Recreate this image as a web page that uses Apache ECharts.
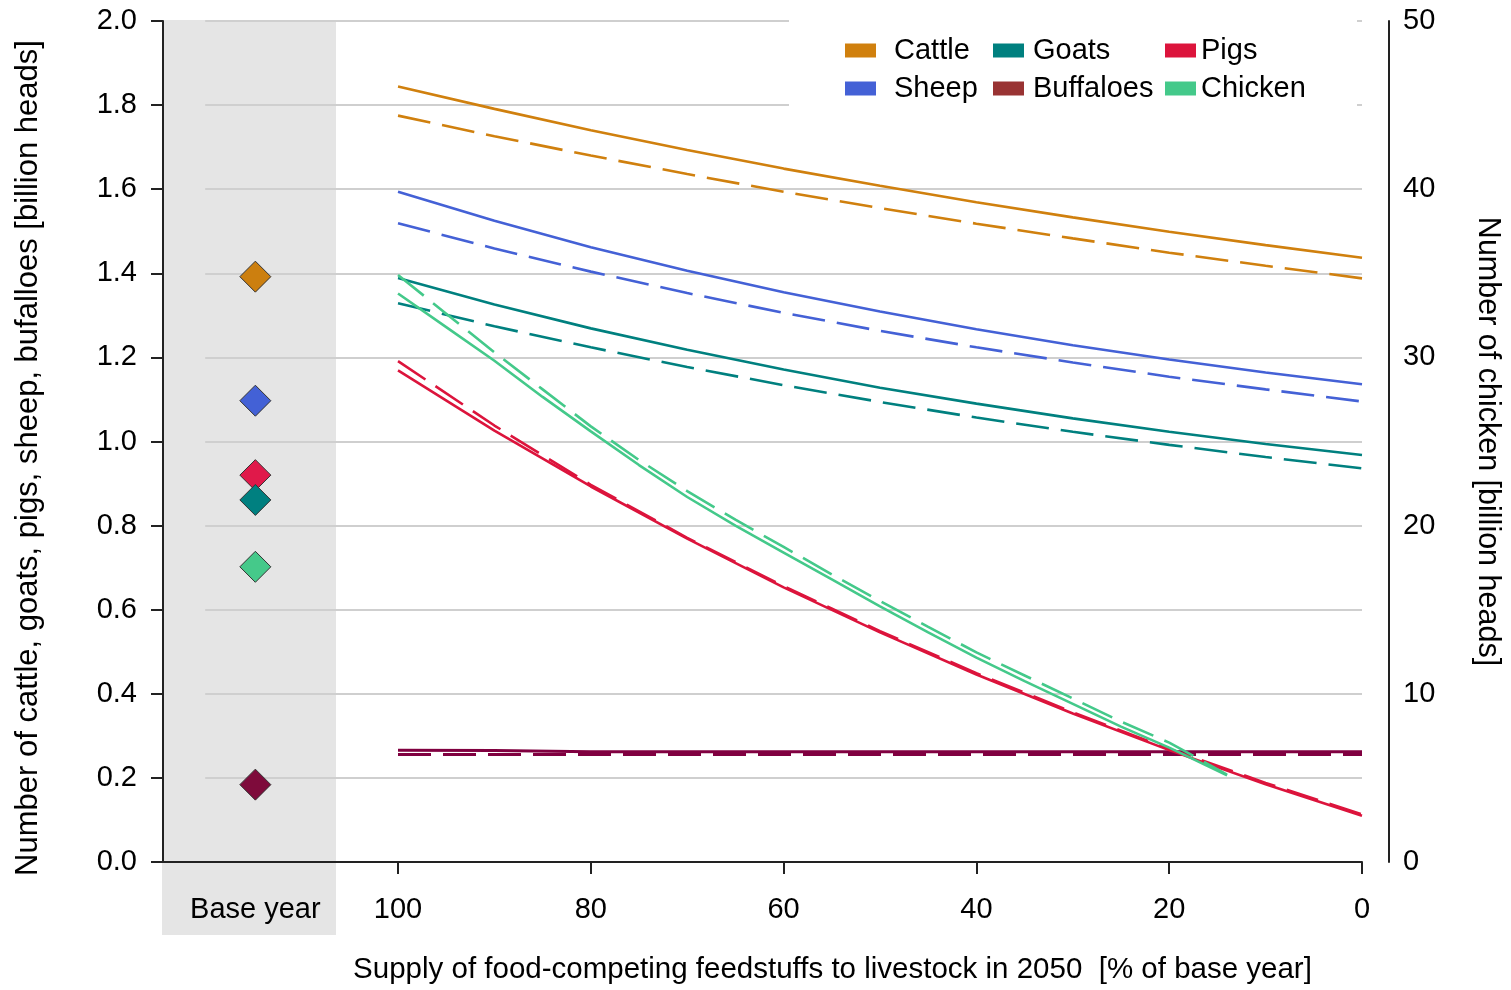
<!DOCTYPE html>
<html>
<head>
<meta charset="utf-8">
<script src="https://cdn.jsdelivr.net/npm/echarts@6/dist/echarts.min.js"></script>
<style>
  html, body { margin: 0; padding: 0; background: #fff; }
  #chart { width: 1511px; height: 990px; }
</style>
</head>
<body>
<div id="chart"></div>
<script>
// Supply of food-competing feedstuffs [% of base year]
const SUPPLY = [100, 90, 80, 70, 60, 50, 40, 30, 20, 10, 0];

// Herd sizes in 2050 [billion heads]; solid = first scenario, *_B = dashed scenario
const CATTLE      = [1.844, 1.791, 1.740, 1.693, 1.649, 1.608, 1.569, 1.533, 1.499, 1.467, 1.437];
const CATTLE_B    = [1.775, 1.726, 1.680, 1.636, 1.594, 1.555, 1.518, 1.483, 1.449, 1.418, 1.388];
const SHEEP       = [1.594, 1.525, 1.462, 1.406, 1.355, 1.309, 1.267, 1.229, 1.195, 1.164, 1.136];
const SHEEP_B     = [1.519, 1.459, 1.404, 1.353, 1.306, 1.263, 1.224, 1.188, 1.154, 1.124, 1.095];
const GOATS       = [1.389, 1.326, 1.269, 1.218, 1.171, 1.128, 1.090, 1.055, 1.023, 0.994, 0.968];
const GOATS_B     = [1.329, 1.274, 1.224, 1.177, 1.134, 1.094, 1.057, 1.023, 0.992, 0.963, 0.936];
const PIGS        = [1.169, 1.026, 0.893, 0.769, 0.653, 0.546, 0.446, 0.353, 0.266, 0.185, 0.110];
const PIGS_B      = [1.191, 1.038, 0.897, 0.771, 0.656, 0.549, 0.449, 0.356, 0.269, 0.188, 0.113];
const BUFFALOES   = [0.266, 0.265, 0.262, 0.262, 0.262, 0.262, 0.262, 0.262, 0.262, 0.262, 0.262];
const BUFFALOES_B = [0.2555, 0.2555, 0.2555, 0.2555, 0.2555, 0.2555, 0.2555, 0.2555, 0.2555, 0.2555, 0.2555];

// Chicken is read on the right axis and stops at 14 %
const CHICKEN_SUPPLY = [100, 95, 90, 85, 80, 75, 70, 65, 60, 55, 50, 45, 40, 35, 30, 25, 20, 14];
const CHICKEN   = [33.8, 31.8, 29.8, 27.65, 25.6, 23.6, 21.7, 20.0, 18.4, 16.8, 15.2, 13.65, 12.15, 10.75, 9.4, 8.05, 6.8, 5.15];
const CHICKEN_B = [34.9, 32.6, 30.3, 28.1, 25.9, 23.9, 22.05, 20.35, 18.73, 17.1, 15.52, 13.98, 12.46, 11.09, 9.72, 8.35, 7.1, 5.2];

// Base-year herd sizes
const BASE_NAMES  = ['Cattle', 'Sheep', 'Pigs', 'Goats', 'Buffaloes'];
const BASE_VALUES = [1.392, 1.097, 0.920, 0.861, 0.184];
const BASE_CHICKEN = 17.55;

// Axis ticks and labels
const X_TICKS = [0, 20, 40, 60, 80, 100];
const BASE_X = 114.8;
const BASE_LABEL = 'Base year';
const Y_TICKS = [0.2, 0.4, 0.6, 0.8, 1.0, 1.2, 1.4, 1.6, 1.8, 2.0];
const GRID_FROM = 120;

const LEGEND_COLS = [['Cattle', 'Sheep'], ['Goats', 'Buffaloes'], ['Pigs', 'Chicken']];

const COLORS = {
  Cattle: '#d0800e',
  Sheep: '#4461d6',
  Goats: '#00807f',
  Pigs: '#dc143c',
  Buffaloes: '#800040',
  Chicken: '#44c98a'
};
const BASE_COLORS = {
  Cattle: '#cc7f0f', Sheep: '#4361d6', Pigs: '#e0194a',
  Goats: '#008080', Buffaloes: '#7e0b3b', Chicken: '#45c98a'
};

const FONT = '"Liberation Sans", Arial, sans-serif';
const pts = (xs, ys) => xs.map((x, i) => [x, ys[i]]);

function line(name, key, xs, ys, dashed, yAxisIndex, width) {
  return {
    type: 'line',
    name: name,
    color: COLORS[key],
    yAxisIndex: yAxisIndex || 0,
    data: pts(xs, ys),
    symbol: 'none',
    showSymbol: false,
    silent: true,
    animation: false,
    z: 3,
    lineStyle: {
      color: COLORS[key],
      width: width || 2.6,
      type: dashed ? [33, 12] : 'solid',
      cap: 'butt'
    }
  };
}

const chart = echarts.init(document.getElementById('chart'), null, { renderer: 'canvas' });

const series = [
  // horizontal grid lines, kept beneath every mark
  {
    type: 'line', name: 'grid', data: [], silent: true, animation: false, z: 1,
    markLine: {
      z: 1,
      silent: true, symbol: 'none', animation: false,
      label: { show: false },
      lineStyle: { color: '#cfcfcf', width: 2, type: 'solid' },
      data: Y_TICKS.map(v => [{ coord: [GRID_FROM, v] }, { coord: [0, v] }])
    }
  },
  line('Buffaloes', 'Buffaloes', SUPPLY, BUFFALOES, false, 0, 3),
  line('Buffaloes B', 'Buffaloes', SUPPLY, BUFFALOES_B, true, 0, 3),
  line('Cattle', 'Cattle', SUPPLY, CATTLE, false),
  line('Cattle B', 'Cattle', SUPPLY, CATTLE_B, true),
  line('Sheep', 'Sheep', SUPPLY, SHEEP, false),
  line('Sheep B', 'Sheep', SUPPLY, SHEEP_B, true),
  line('Goats', 'Goats', SUPPLY, GOATS, false),
  line('Goats B', 'Goats', SUPPLY, GOATS_B, true),
  line('Pigs', 'Pigs', SUPPLY, PIGS, false),
  line('Pigs B', 'Pigs', SUPPLY, PIGS_B, true),
  line('Chicken', 'Chicken', CHICKEN_SUPPLY, CHICKEN, false, 1),
  line('Chicken B', 'Chicken', CHICKEN_SUPPLY, CHICKEN_B, true, 1),
  {
    type: 'scatter', name: 'Base year herds', silent: true, animation: false, z: 6,
    symbol: 'diamond', symbolSize: 31,
    itemStyle: { borderColor: '#333', borderWidth: 1, opacity: 1 },
    data: BASE_NAMES.map((n, i) => ({ value: [BASE_X, BASE_VALUES[i]], itemStyle: { color: BASE_COLORS[n], opacity: 1 } }))
  },
  {
    type: 'scatter', name: 'Base year chicken', yAxisIndex: 1, silent: true, animation: false, z: 6,
    symbol: 'diamond', symbolSize: 31,
    itemStyle: { color: BASE_COLORS.Chicken, borderColor: '#333', borderWidth: 1, opacity: 1 },
    data: [[BASE_X, BASE_CHICKEN]]
  }
];

const legendLefts = [845, 993, 1165];
const legendPads = [13, 4, 0];
const legends = LEGEND_COLS.map((names, i) => ({
  orient: 'vertical',
  left: legendLefts[i],
  top: 36,
  padding: 0,
  itemGap: 9,
  itemWidth: 31,
  itemHeight: 14,
  icon: 'rect',
  selectedMode: false,
  z: 60,
  textStyle: { fontFamily: FONT, fontSize: 29, lineHeight: 29, color: '#000', padding: [0, 0, 0, legendPads[i]] },
  data: names.map(n => ({ name: n, icon: 'rect', itemStyle: { color: n === 'Buffaloes' ? '#993333' : COLORS[n] } }))
}));

chart.setOption({
  animation: false,
  backgroundColor: '#fff',
  textStyle: { fontFamily: FONT },
  grid: { left: 163, right: 149, top: 21, bottom: 124, containLabel: false },
  legend: legends,
  graphic: [
    // shaded base-year column
    { type: 'rect', left: 162, top: 20, shape: { width: 174, height: 915 }, style: { fill: '#e5e5e5' }, z: -1, silent: true },
    // legend backdrop
    { type: 'rect', left: 789, top: 6, shape: { width: 568, height: 110 }, style: { fill: '#fff' }, z: 50, silent: true }
  ],
  xAxis: {
    type: 'value',
    inverse: true,
    min: 0,
    max: 124.38,
    splitLine: { show: false },
    axisLine: { show: true, onZero: false, lineStyle: { color: '#222', width: 2 } },
    axisTick: { show: true, customValues: X_TICKS, length: 12, lineStyle: { color: '#222', width: 2 } },
    axisLabel: {
      customValues: X_TICKS.concat([BASE_X]),
      formatter: v => (Math.abs(v - BASE_X) < 1e-6 ? BASE_LABEL : String(v)),
      margin: 33, fontSize: 29, lineHeight: 29, color: '#000', fontFamily: FONT
    },
    name: 'Supply of food-competing feedstuffs to livestock in 2050  [% of base year]',
    nameLocation: 'middle',
    nameGap: 93,
    nameTextStyle: { fontSize: 29.5, lineHeight: 30, color: '#000', fontFamily: FONT, padding: [0, 0, 0, 140] }
  },
  yAxis: [
    {
      type: 'value',
      min: 0, max: 2, interval: 0.2,
      splitLine: { show: false },
      axisLine: { show: true, onZero: false, lineStyle: { color: '#222', width: 2 } },
      axisTick: { show: true, length: 12, lineStyle: { color: '#222', width: 2 } },
      axisLabel: { formatter: v => v.toFixed(1), margin: 26, fontSize: 29, color: '#000', fontFamily: FONT },
      name: 'Number of cattle, goats, pigs, sheep, bufalloes [billion heads]',
      nameLocation: 'middle',
      nameRotate: 90,
      nameGap: 119,
      nameTextStyle: { fontSize: 31, lineHeight: 31, color: '#000', fontFamily: FONT, padding: [0, 33, 0, 0] }
    },
    {
      type: 'value',
      position: 'right',
      offset: 27,
      min: 0, max: 50, interval: 10,
      splitLine: { show: false },
      axisLine: { show: true, onZero: false, lineStyle: { color: '#222', width: 2 } },
      axisTick: { show: false },
      axisLabel: { margin: 14, fontSize: 29, color: '#000', fontFamily: FONT },
      name: 'Number of chicken [billion heads]',
      nameLocation: 'middle',
      nameRotate: -90,
      nameGap: 83,
      nameTextStyle: { fontSize: 30.5, lineHeight: 31, color: '#000', fontFamily: FONT }
    }
  ],
  series: series
});
</script>
</body>
</html>
